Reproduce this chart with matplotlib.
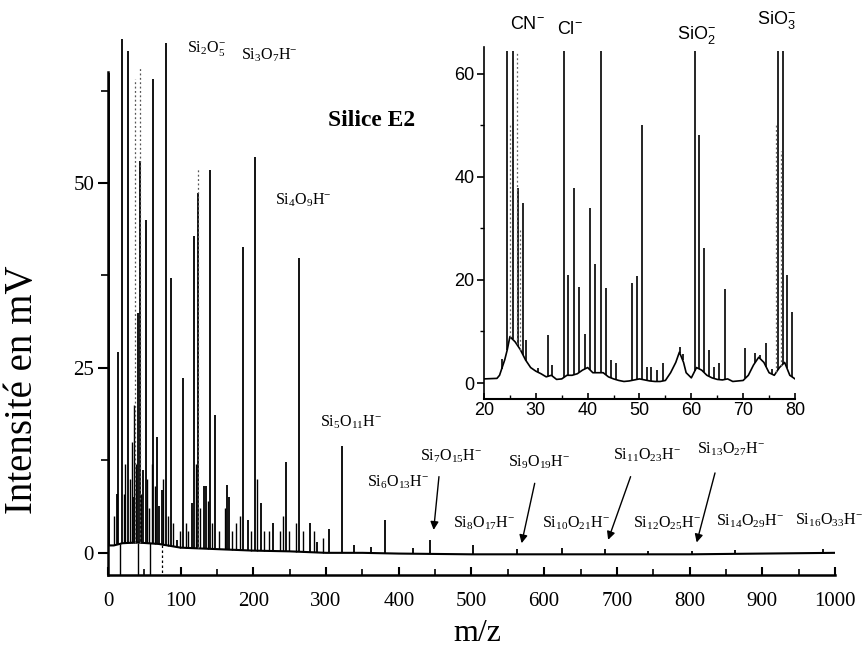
import numpy as np
import matplotlib
matplotlib.use('Agg')
import matplotlib.pyplot as plt
from matplotlib.ticker import MultipleLocator

plt.rcParams['font.family'] = ['Liberation Serif', 'DejaVu Serif']
plt.rcParams['mathtext.fontset'] = 'custom'
plt.rcParams['mathtext.rm'] = 'Liberation Serif'
plt.rcParams['mathtext.it'] = 'Liberation Serif:italic'
plt.rcParams['mathtext.bf'] = 'Liberation Serif:bold'
plt.rcParams['mathtext.sf'] = 'Liberation Sans'

# ---------------- main spectrum data ----------------
main_base_mz = [0, 8, 20, 40, 70, 100, 150, 200, 250, 300, 350, 400, 500, 600, 700, 800, 900, 1000]
main_base_int = [1.0, 1.0, 1.3, 1.4, 1.2, 0.7, 0.5, 0.3, 0.2, 0.0, 0.0, -0.1, -0.2, -0.2, -0.2, -0.2, -0.1, 0.0]

main_peak_mz = [1.8, 12.0, 14.2, 19.3, 27.5, 34.8, 41.7, 44.0, 48.6, 51.9, 62.3, 67.0,
                70.6, 73.8, 79.4, 86.7, 95.4, 103.6, 115.0, 118.3, 124.2, 132.0, 134.8,
                140.3, 147.2, 164.1, 167.0, 186.1, 193.0, 202.6, 210.0, 227.4, 244.4,
                262.7, 277.9, 287.9, 304.0, 321.5, 338.0, 362.0, 381.0, 420.0, 443.0,
                502.0, 562.0, 624.0, 684.0, 743.0, 803.0, 862.0, 983.0]
main_peak_int = [64.8, 8.0, 27.1, 69.5, 67.9, 7.6, 32.4, 53.0, 11.2, 45.0, 64.0, 15.7,
                 6.3, 8.5, 68.9, 37.1, 1.8, 23.6, 6.7, 42.8, 48.6, 9.0, 9.0,
                 51.7, 18.6, 9.2, 7.6, 41.4, 4.4, 53.5, 6.7, 4.0, 12.3,
                 39.9, 4.1, 1.4, 3.2, 14.4, 1.0, 0.8, 4.5, 0.6, 1.8,
                 1.0, 0.5, 0.6, 0.5, 0.3, 0.3, 0.4, 0.5]

# small peaks of the dense low-mass forest
main_minor_mz = [8, 22, 24, 31, 33, 36, 39, 46, 54, 56, 60, 65, 76, 83, 90, 99, 107, 110,
                 121, 127, 137, 143, 153, 161, 170, 176, 181, 197, 205, 214, 222, 236, 241,
                 249, 258, 268, 283, 296]
main_minor_int = [5, 8, 12, 10, 15, 20, 12, 8, 10, 6, 12, 9, 10, 5, 4, 3, 4, 3,
                  12, 6, 7, 4, 3, 6, 3, 4, 5, 3, 10, 3, 3, 3, 5,
                  3, 4, 3, 3, 2]

main_faint_mz = [37.1, 44.4, 124.2]
main_faint_int = [64.0, 65.7, 52.0]

main_dip_mz = [16.5, 41.0, 58.0, 75.0]
main_dip_int = [-3.0, -3.0, -3.0, -3.0]

main_labels = [r'$\mathrm{Si_2O_5^{-}}$', r'$\mathrm{Si_3O_7H^{-}}$', r'$\mathrm{Si_4O_9H^{-}}$',
               r'$\mathrm{Si_5O_{11}H^{-}}$', r'$\mathrm{Si_6O_{13}H^{-}}$', r'$\mathrm{Si_7O_{15}H^{-}}$',
               r'$\mathrm{Si_8O_{17}H^{-}}$', r'$\mathrm{Si_9O_{19}H^{-}}$', r'$\mathrm{Si_{10}O_{21}H^{-}}$',
               r'$\mathrm{Si_{11}O_{23}H^{-}}$', r'$\mathrm{Si_{12}O_{25}H^{-}}$', r'$\mathrm{Si_{13}O_{27}H^{-}}$',
               r'$\mathrm{Si_{14}O_{29}H^{-}}$', r'$\mathrm{Si_{16}O_{33}H^{-}}$']
main_label_x = [108.7, 183.5, 230.0, 292.0, 356.0, 429.0, 474.0, 550.0, 596.5, 694.6, 722.0, 809.8, 837.0, 945.0]
main_label_y = [68.2, 67.3, 47.7, 17.7, 9.5, 13.0, 4.05, 12.3, 4.05, 13.2, 4.05, 14.0, 4.2, 4.46]

arrow_start_x = [455.3, 587.0, 718.9, 835.0]
arrow_start_y = [10.3, 9.4, 10.3, 10.8]
arrow_end_x = [448.0, 569.0, 688.0, 809.8]
arrow_end_y = [3.1, 1.3, 1.76, 1.4]

# ---------------- inset data ----------------
inset_base_mz = [20, 22.5, 23, 23.5, 24, 24.5, 25, 26, 27, 28, 29, 30, 31, 32, 33, 34, 35, 36, 37, 38,
                 39, 40, 41, 42, 43, 44, 45, 46, 47, 48, 49, 50, 51, 52, 53, 54, 55, 56, 57, 57.7,
                 58.5, 59, 59.5, 60, 61, 62, 63, 64, 65, 66, 67, 68, 69, 70, 71, 72, 73, 74, 75,
                 76, 77, 78, 79, 80]
inset_base_int = [0.8, 0.9, 1.5, 3.0, 4.5, 6.5, 9.0, 8.0, 6.5, 4.5, 3.0, 2.3, 1.8, 1.2, 1.5, 0.7, 0.8,
                  1.5, 1.5, 1.8, 2.5, 3.0, 2.0, 2.0, 2.0, 1.2, 0.8, 0.5, 0.3, 0.4, 0.6, 0.8, 0.6, 0.4,
                  0.3, 0.3, 0.5, 2.0, 4.0, 6.0, 4.0, 2.0, 1.5, 1.0, 3.0, 2.5, 1.5, 1.0, 0.7, 0.6, 0.8,
                  0.3, 0.4, 0.5, 1.5, 3.5, 5.0, 4.0, 2.0, 1.5, 3.0, 4.0, 1.5, 0.8]

inset_peak_mz = [23.4, 24.5, 25.5, 26.5, 27.5, 28.2, 30.4, 32.3, 33.2, 35.4, 36.3, 37.4, 38.4, 39.5,
                 40.4, 41.5, 42.6, 43.5, 44.5, 45.5, 48.5, 49.5, 50.5, 51.4, 52.3, 53.3, 54.5, 57.8,
                 58.3, 60.7, 61.5, 62.4, 63.4, 64.4, 65.4, 66.5, 70.4, 72.3, 73.2, 74.4, 75.5, 76.7,
                 77.6, 78.4, 79.5]
inset_peak_int = [4.7, 64.5, 64.5, 37.9, 35.0, 8.3, 3.0, 9.3, 3.5, 64.5, 21.0, 37.9, 18.6, 9.6,
                  33.9, 23.0, 64.5, 18.4, 4.5, 3.9, 19.5, 20.8, 50.1, 3.2, 3.1, 2.5, 3.8, 7.0,
                  5.6, 64.5, 48.2, 26.2, 6.4, 3.1, 3.8, 18.2, 6.7, 5.9, 5.4, 7.8, 2.8, 64.5,
                  64.5, 21.0, 13.8]

inset_faint_mz = [25.0, 26.3, 27.0, 76.4, 77.3]
inset_faint_int = [50.0, 64.5, 30.0, 50.0, 45.0]

inset_labels = [r'$\mathsf{CN^{-}}$', r'$\mathsf{Cl^{-}}$', r'$\mathsf{SiO_2^{-}}$', r'$\mathsf{SiO_3^{-}}$']
inset_label_x = [25.0, 34.0, 57.2, 72.6]
inset_label_y = [69.5, 68.5, 67.6, 70.5]

# ---------------- figure ----------------
fig = plt.figure(figsize=(8.63, 6.51), dpi=100)
ax = fig.add_axes([0.1251, 0.1167, 0.8424, 0.8295])

ax.plot(main_base_mz, main_base_int, color='black', lw=1.5)
mb = np.interp(main_peak_mz, main_base_mz, main_base_int)
ax.vlines(main_peak_mz, mb, main_peak_int, color='black', lw=1.3)
nb = np.interp(main_minor_mz, main_base_mz, main_base_int)
ax.vlines(main_minor_mz, nb, main_minor_int, color='black', lw=1.0)
fb = np.interp(main_faint_mz, main_base_mz, main_base_int)
ax.vlines(main_faint_mz, fb, main_faint_int, color='#555555', lw=0.9, linestyles=(0, (1.5, 2)))
db = np.interp(main_dip_mz, main_base_mz, main_base_int)
ax.vlines(main_dip_mz[:3], db[:3], main_dip_int[:3], color='black', lw=1.0)
ax.vlines(main_dip_mz[3:], db[3:], main_dip_int[3:], color='black', lw=0.9, linestyles=(0, (2, 2)))

ax.set_xlim(0, 1000)
ax.set_ylim(-3, 70)
for s in ['top', 'right']:
    ax.spines[s].set_visible(False)
ax.spines['left'].set_bounds(-3, 65)
ax.spines['left'].set_linewidth(1.8)
ax.spines['bottom'].set_linewidth(1.8)
ax.xaxis.set_major_locator(MultipleLocator(100))
ax.xaxis.set_minor_locator(MultipleLocator(50))
ax.set_yticks([0, 25, 50])
ax.set_yticks([12.5, 37.5, 62.5], minor=True)
ax.tick_params(axis='x', which='major', direction='in', length=6, width=1.5, labelsize=15, pad=12)
ax.tick_params(axis='x', which='minor', direction='in', length=4, width=1.2)
ax.tick_params(axis='y', which='major', direction='out', length=7, width=1.5, labelsize=15, pad=3)
ax.tick_params(axis='y', which='minor', direction='out', length=5, width=1.2)

ax.set_ylabel('Intensité en mV', fontsize=28)
ax.yaxis.set_label_coords(-0.092, 0.343)
ax.set_xlabel('m/z', fontsize=23)
ax.xaxis.set_label_coords(0.508, -0.082)

for t, x, y in zip(main_labels, main_label_x, main_label_y):
    ax.text(x, y, t, fontsize=11.5, ha='left', va='center', clip_on=False)
ax.text(302.6, 58.5, 'Silice E2', fontsize=17, fontweight='bold', ha='left', va='center')

for x0, y0, x1, y1 in zip(arrow_start_x, arrow_start_y, arrow_end_x, arrow_end_y):
    ax.annotate('', xy=(x1, y1), xytext=(x0, y0),
                arrowprops=dict(arrowstyle='-|>', color='black', lw=1.0, mutation_scale=12,
                                shrinkA=0, shrinkB=0))

# ---------------- inset ----------------
axi = fig.add_axes([0.56083, 0.3871, 0.36037, 0.5407])
axi.patch.set_alpha(0)
axi.plot(inset_base_mz, inset_base_int, color='black', lw=1.2)
ib = np.interp(inset_peak_mz, inset_base_mz, inset_base_int)
axi.vlines(inset_peak_mz, ib, inset_peak_int, color='black', lw=1.2)
ifb = np.interp(inset_faint_mz, inset_base_mz, inset_base_int)
axi.vlines(inset_faint_mz, ifb, inset_faint_int, color='#666666', lw=0.9, linestyles=(0, (1.5, 2)))
axi.set_xlim(20, 80)
axi.set_ylim(-3.1, 65.2)
for s in ['top', 'right']:
    axi.spines[s].set_visible(False)
axi.spines['left'].set_linewidth(1.2)
axi.spines['bottom'].set_linewidth(1.5)
axi.xaxis.set_major_locator(MultipleLocator(10))
axi.xaxis.set_minor_locator(MultipleLocator(5))
axi.yaxis.set_major_locator(MultipleLocator(20))
axi.yaxis.set_minor_locator(MultipleLocator(10))
axi.tick_params(axis='x', which='major', direction='in', length=4, width=1.2, labelsize=13, pad=2)
axi.tick_params(axis='x', which='minor', direction='in', length=3, width=1.0)
axi.tick_params(axis='y', which='major', direction='out', length=5, width=1.2, labelsize=13, pad=2)
axi.tick_params(axis='y', which='minor', direction='out', length=3, width=1.0)
for lab in axi.get_xticklabels() + axi.get_yticklabels():
    lab.set_fontfamily('Liberation Sans')

for t, x, y in zip(inset_labels, inset_label_x, inset_label_y):
    axi.text(x, y, t, fontsize=13, ha='left', va='center', clip_on=False)

fig.savefig('out.png', dpi=100)
